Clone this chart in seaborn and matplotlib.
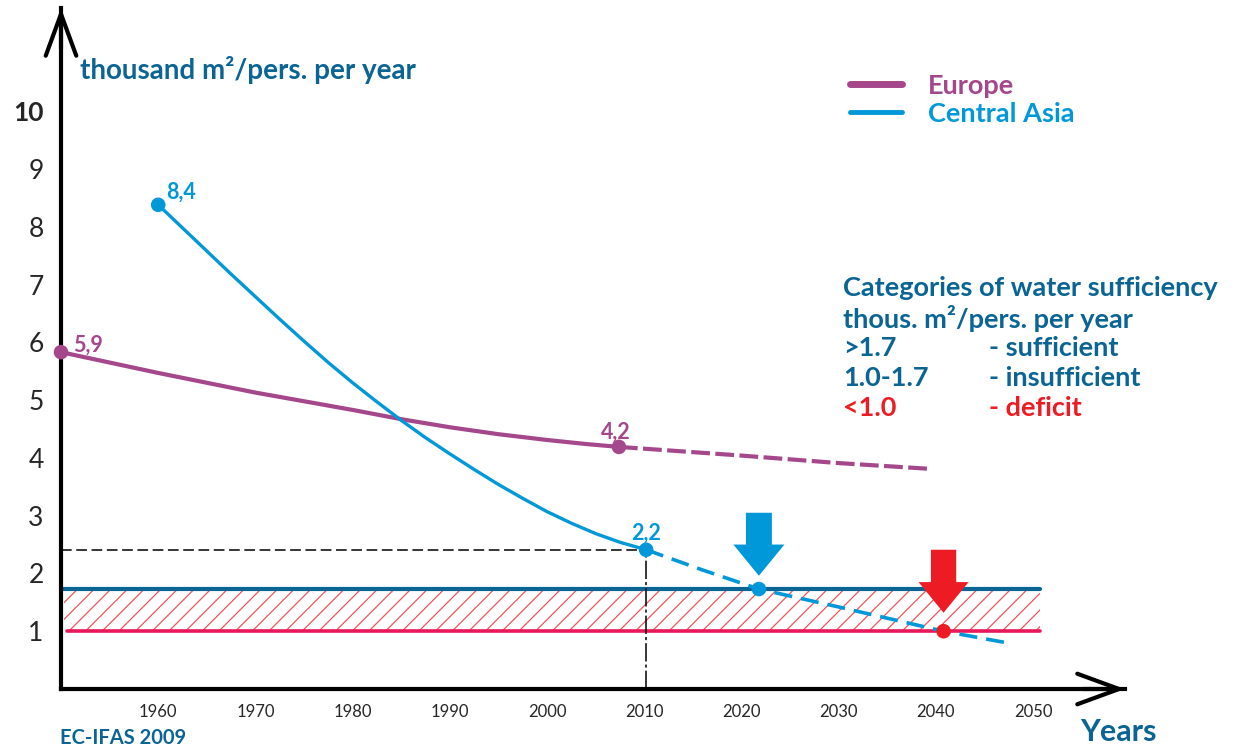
import matplotlib
matplotlib.use('Agg')
import matplotlib.pyplot as plt
import seaborn as sns
from matplotlib.lines import Line2D

# Values
europe_years = [1950, 1955, 1960, 1965, 1970, 1975, 1980, 1985, 1990, 1995, 2000, 2004, 2007.4]
europe_values = [5.83, 5.65, 5.47, 5.30, 5.13, 4.98, 4.83, 4.67, 4.53, 4.41, 4.31, 4.24, 4.19]
europe_proj_years = [2007.4, 2020, 2030, 2039.4]
europe_proj_values = [4.19, 4.04, 3.91, 3.81]

asia_years = [1960, 1962.5, 1965, 1967.5, 1970, 1972.5, 1975, 1977.5, 1980, 1982.5, 1985,
              1987.5, 1990, 1992.5, 1995, 1997.5, 2000, 2002.5, 2005, 2007.5, 2010.2]
asia_values = [8.38, 7.98, 7.58, 7.18, 6.79, 6.40, 6.02, 5.65, 5.30, 4.97, 4.65,
               4.35, 4.07, 3.80, 3.54, 3.30, 3.07, 2.87, 2.69, 2.54, 2.41]
asia_proj_years = [2010.2, 2016, 2021.8, 2030, 2040.8, 2047.3]
asia_proj_values = [2.41, 2.06, 1.73, 1.42, 1.00, 0.80]

point_labels = ['5,9', '4,2', '8,4', '2,2']
sufficient_level = 1.73
deficit_level = 1.0
reach_sufficient_year = 2021.8
reach_deficit_year = 2040.8
x_ticks = [1960, 1970, 1980, 1990, 2000, 2010, 2020, 2030, 2040, 2050]
y_ticks = [1, 2, 3, 4, 5, 6, 7, 8, 9, 10]

PURPLE = '#a5478b'
BLUE = '#0098d8'
DARK = '#0a6494'
RED = '#ed1c24'
PINK = '#e8185a'

sns.set_style('white')
plt.rcParams['font.family'] = ['Lato', 'DejaVu Sans']
plt.rcParams['hatch.linewidth'] = 0.9
plt.rcParams['lines.solid_joinstyle'] = 'round'

W, H = 1237, 749
fig = plt.figure(figsize=(W / 100, H / 100), dpi=100)
ax = fig.add_axes([61 / W, 60 / H, (1125 - 61) / W, (689 - 8) / H])
ax.set_xlim(1950, 1950 + (1125 - 61) / 9.72)
ax.set_ylim(0, (689 - 8) / 57.78)

# water sufficiency band
ax.fill_between([1950.3, 2050.7], deficit_level, sufficient_level, facecolor='none',
                edgecolor='#f0555a', hatch='//', linewidth=0, zorder=1)
ax.plot([1950, 2050.7], [sufficient_level] * 2, color=DARK, lw=3, zorder=2)
ax.plot([1950.6, 2050.7], [deficit_level] * 2, color=PINK, lw=2.6, zorder=2)

# guide lines at 2010
ax.plot([1950, asia_years[-1]], [2.4, 2.4], color='k', lw=1.1, dashes=(7, 3), zorder=2)
ax.plot([asia_years[-1]] * 2, [0, 2.4], color='k', lw=1.1, dashes=(12, 2, 2, 2), zorder=2)

# series
sns.lineplot(x=europe_years, y=europe_values, color=PURPLE, lw=3, ax=ax, zorder=4)
sns.lineplot(x=europe_proj_years, y=europe_proj_values, color=PURPLE, lw=3, ax=ax,
             zorder=4).lines[-1].set_dashes((4.5, 1.3))
sns.lineplot(x=asia_years, y=asia_values, color=BLUE, lw=2.4, ax=ax, zorder=4)
sns.lineplot(x=asia_proj_years, y=asia_proj_values, color=BLUE, lw=2.6, ax=ax,
             zorder=4).lines[-1].set_dashes((5, 2.5))

# marked points
sns.scatterplot(x=[europe_years[0], europe_years[-1]], y=[europe_values[0], europe_values[-1]],
                color=PURPLE, s=110, edgecolor='none', ax=ax, zorder=5, clip_on=False)
sns.scatterplot(x=[asia_years[0], asia_years[-1], reach_sufficient_year],
                y=[asia_values[0], asia_values[-1], sufficient_level],
                color=BLUE, s=110, edgecolor='none', ax=ax, zorder=5)
sns.scatterplot(x=[reach_deficit_year], y=[deficit_level], color=RED, s=110,
                edgecolor='none', ax=ax, zorder=5)

lbl = dict(fontsize=15.5, fontweight='bold', va='center')
ax.annotate(point_labels[0], (europe_years[0], europe_values[0]), xytext=(12, 7),
            textcoords='offset pixels', color=PURPLE, **lbl)
ax.annotate(point_labels[1], (europe_years[-1], europe_values[-1]), xytext=(-18, 15),
            textcoords='offset pixels', color=PURPLE, **lbl)
ax.annotate(point_labels[2], (asia_years[0], asia_values[0]), xytext=(8, 13),
            textcoords='offset pixels', color=BLUE, **lbl)
ax.annotate(point_labels[3], (asia_years[-1], asia_values[-1]), xytext=(-15, 17),
            textcoords='offset pixels', color=BLUE, **lbl)

# pointing arrows
ax.arrow(reach_sufficient_year, 3.05, 0, -1.09, width=2.67, head_width=5.25,
         head_length=0.54, length_includes_head=True, color=BLUE, lw=0, zorder=6)
ax.arrow(reach_deficit_year, 2.41, 0, -1.09, width=2.6, head_width=5.15,
         head_length=0.53, length_includes_head=True, color=RED, lw=0, zorder=6)

# axes with arrow heads
for side in ['top', 'right']:
    ax.spines[side].set_visible(False)
for side in ['left', 'bottom']:
    ax.spines[side].set_linewidth(3)
    ax.spines[side].set_color('k')
arrow_kw = dict(arrowstyle='->,head_length=1.5,head_width=0.55', lw=3, color='k',
                mutation_scale=20, shrinkA=0, shrinkB=0)
ax.annotate('', xy=(1, 0), xycoords='axes fraction', xytext=(0.96, 0), arrowprops=arrow_kw)
ax.annotate('', xy=(0, 1), xycoords='axes fraction', xytext=(0, 0.94), arrowprops=arrow_kw)

ax.set_xticks(x_ticks)
ax.set_yticks(y_ticks)
ax.tick_params(axis='both', direction='inout', length=15, width=3, color='k')
ax.tick_params(axis='x', labelsize=12, pad=3)
ax.tick_params(axis='y', labelsize=19, pad=5)
ax.get_yticklabels()[-1].set_fontweight('bold')
ax.set_xlabel('')
ax.set_ylabel('')

# legend
handles = [Line2D([], [], color=PURPLE, lw=5), Line2D([], [], color=BLUE, lw=3.5)]
ax.legend(handles, ['Europe', 'Central Asia'], loc='upper left',
          bbox_to_anchor=(836 / W, 1 - 60 / H), bbox_transform=fig.transFigure,
          frameon=False, labelcolor='linecolor', handlelength=1.95, handletextpad=0.95,
          labelspacing=0.15, borderpad=0, prop={'size': 19.5, 'weight': 'bold'})

# texts
fig.text(80 / W, 1 - 70 / H, 'thousand m²/pers. per year', color=DARK, fontsize=20,
         fontweight='bold', va='center')
cat = dict(fontsize=19.5, fontweight='bold', va='center')
fig.text(843 / W, 1 - 288 / H, 'Categories of water sufficiency', color=DARK, **cat)
fig.text(843 / W, 1 - 318 / H, 'thous. m²/pers. per year', color=DARK, **cat)
fig.text(843 / W, 1 - 348 / H, '>1.7', color=DARK, **cat)
fig.text(989 / W, 1 - 348 / H, '- sufficient', color=DARK, **cat)
fig.text(843 / W, 1 - 378 / H, '1.0-1.7', color=DARK, **cat)
fig.text(989 / W, 1 - 378 / H, '- insufficient', color=DARK, **cat)
fig.text(843 / W, 1 - 408 / H, '<1.0', color=RED, **cat)
fig.text(989 / W, 1 - 408 / H, '- deficit', color=RED, **cat)
fig.text(1118 / W, 1 - 732 / H, 'Years', color=DARK, fontsize=22, fontweight='bold',
         ha='center', va='center')
fig.text(60 / W, 1 - 738 / H, 'EC-IFAS 2009', color=DARK, fontsize=14.5, fontweight='bold',
         va='center')

fig.savefig('out.png', dpi=100)
